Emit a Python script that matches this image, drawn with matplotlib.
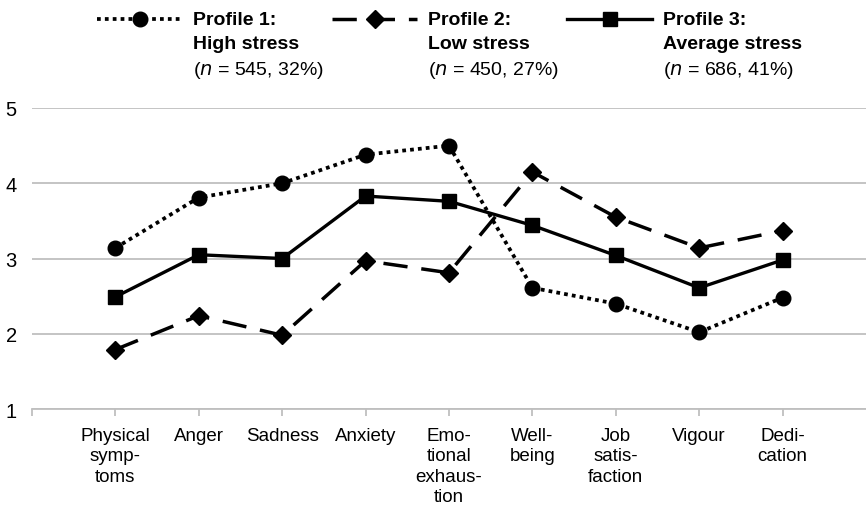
import numpy as np
import matplotlib.pyplot as plt
from matplotlib.lines import Line2D

plt.rcParams['font.family'] = ['Liberation Sans', 'DejaVu Sans']

categories = ["Physical\nsymp-\ntoms", "Anger", "Sadness", "Anxiety",
              "Emo-\ntional\nexhaus-\ntion", "Well-\nbeing", "Job\nsatis-\nfaction",
              "Vigour", "Dedi-\ncation"]
profile1 = [3.14, 3.81, 4.00, 4.38, 4.50, 2.61, 2.40, 2.02, 2.48]
profile2 = [1.79, 2.24, 1.98, 2.97, 2.81, 4.15, 3.55, 3.14, 3.37]
profile3 = [2.49, 3.05, 3.00, 3.83, 3.76, 3.44, 3.04, 2.61, 2.98]
legend_titles = ["Profile 1:\nHigh stress", "Profile 2:\nLow stress", "Profile 3:\nAverage stress"]
legend_counts = ["545, 32%", "450, 27%", "686, 41%"]

fig = plt.figure(figsize=(8.66, 5.10), dpi=100)
ax = fig.add_axes([32/866, 1-410/510, 1-32/866, 301/510])

x = np.arange(1, len(categories)+1)
styles = [
    dict(linestyle=(0, (1, 1.1)), marker='o', markersize=10.5, linewidth=2.7),
    dict(linestyle=(0, (7, 4)), marker='D', markersize=9, linewidth=2.5),
    dict(linestyle='-', marker='s', markersize=10.5, linewidth=2.4),
]
for vals, st in zip([profile1, profile2, profile3], styles):
    ax.plot(x, vals, color='black', clip_on=False, zorder=3, **st)

ax.set_xlim(0, 10)
ax.set_ylim(1, 5)
ax.set_yticks([1, 2, 3, 4, 5])
ax.set_xticks(np.arange(0, 10))
ax.set_xticklabels([""] + categories, fontsize=13.5, linespacing=1.25, va='top')
ax.tick_params(axis='x', length=5, color='#bfbfbf', width=1.3, pad=8)
ax.tick_params(axis='y', length=0, labelsize=14.5, pad=11)
ax.grid(axis='y', color='#bfbfbf', linewidth=1.3)
ax.set_axisbelow(True)
for s in ['top', 'right', 'left']:
    ax.spines[s].set_visible(False)
ax.spines['bottom'].set_color('#bfbfbf')
ax.spines['bottom'].set_linewidth(1.3)

# legend drawn by hand
starts = [97, 332, 567]
for i, st in enumerate(styles):
    x0 = starts[i]
    xs = np.array([x0, x0 + 85]) / 866
    yy = 1 - 20/510
    ln = Line2D(xs, [yy, yy], color='black', linestyle=st['linestyle'],
                linewidth=st['linewidth'], transform=fig.transFigure)
    fig.add_artist(ln)
    mk = Line2D([xs.mean()], [yy], color='black', marker=st['marker'],
                markersize=st['markersize'], linestyle='none', transform=fig.transFigure)
    fig.add_artist(mk)
    tx = (x0 + 96) / 866
    fig.text(tx, 1 - 12/510, legend_titles[i], fontsize=14, fontweight='bold',
             va='top', ha='left', linespacing=1.55)
    fig.text(tx, 1 - 60/510, r"($\it{n}$ = " + legend_counts[i] + ")", fontsize=14,
             va='top', ha='left')

fig.savefig("out.png", dpi=100)
